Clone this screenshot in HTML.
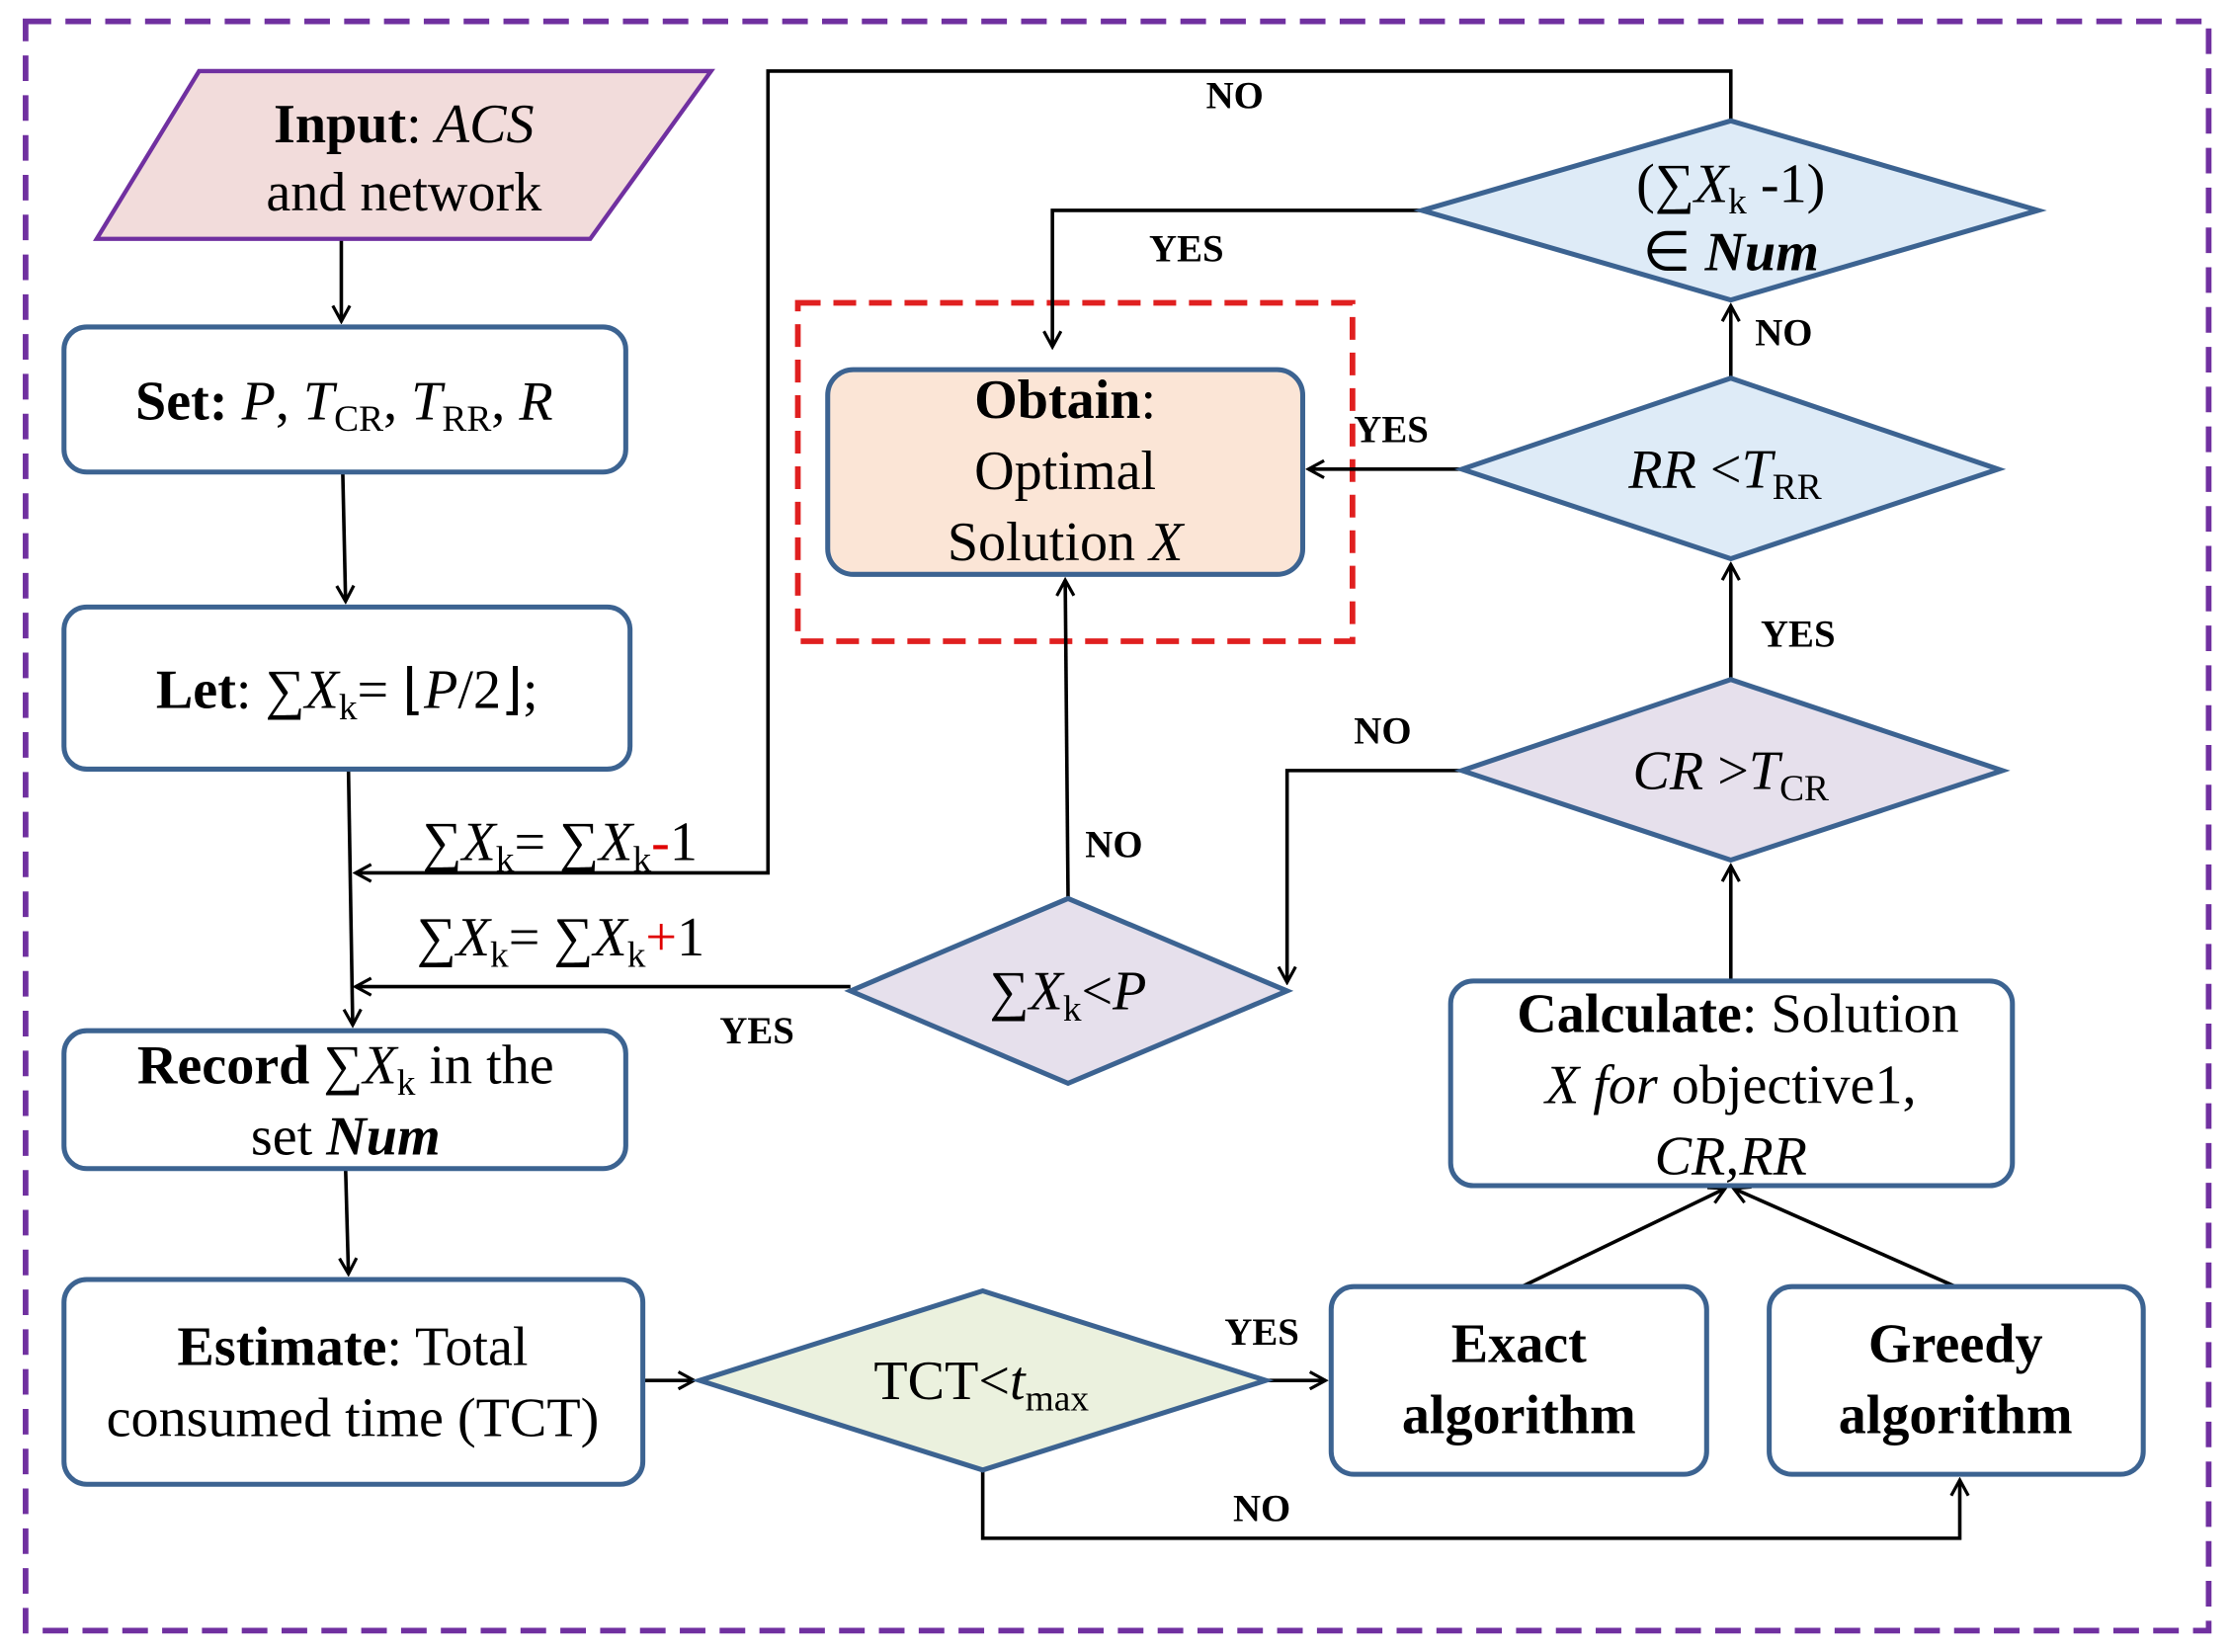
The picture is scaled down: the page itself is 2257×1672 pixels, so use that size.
<!DOCTYPE html>
<html><head><meta charset="utf-8"><style>
html,body{margin:0;padding:0;background:#fff;}
svg{display:block;}
text{font-family:"Liberation Serif",serif;fill:#000;}
.t{font-size:39px;}
.l{font-size:27px;font-weight:bold;}
</style></head><body>
<svg width="2257" height="1672" viewBox="0 0 1568 1162" preserveAspectRatio="none" xmlns="http://www.w3.org/2000/svg">
<defs><marker id="a" markerWidth="14" markerHeight="14" refX="12" refY="7" orient="auto" markerUnits="userSpaceOnUse"><path d="M1,1 L12,7 L1,13" fill="none" stroke="#000" stroke-width="2.2"/></marker></defs>
<rect x="18" y="15" width="1535" height="1132" fill="none" stroke="#7030a0" stroke-width="4" stroke-dasharray="18,10"/>
<rect x="561" y="213" width="390" height="238" fill="none" stroke="#e02020" stroke-width="4" stroke-dasharray="16,9"/>
<g stroke="#000" stroke-width="2.5" fill="none">
<line x1="240" y1="168" x2="240" y2="226" marker-end="url(#a)"/>
<line x1="241" y1="332" x2="243" y2="423" marker-end="url(#a)"/>
<line x1="245" y1="541" x2="248" y2="721" marker-end="url(#a)"/>
<line x1="243" y1="822" x2="245" y2="896" marker-end="url(#a)"/>
<line x1="452" y1="971" x2="488" y2="971" marker-end="url(#a)"/>
<line x1="890" y1="971" x2="932" y2="971" marker-end="url(#a)"/>
<polyline points="691,1034 691,1082 1378,1082 1378,1041" marker-end="url(#a)"/>
<line x1="1070" y1="905" x2="1213" y2="836" marker-end="url(#a)"/>
<line x1="1375" y1="905" x2="1219" y2="836" marker-end="url(#a)"/>
<line x1="1217" y1="690" x2="1217" y2="609" marker-end="url(#a)"/>
<line x1="1217" y1="478" x2="1217" y2="397" marker-end="url(#a)"/>
<line x1="1217" y1="266" x2="1217" y2="215" marker-end="url(#a)"/>
<line x1="1028" y1="330" x2="920" y2="330" marker-end="url(#a)"/>
<polyline points="1217,85 1217,50 540,50 540,614 250,614" marker-end="url(#a)"/>
<polyline points="1000,148 740,148 740,244" marker-end="url(#a)"/>
<polyline points="1028,542 905,542 905,691" marker-end="url(#a)"/>
<line x1="751" y1="632" x2="749" y2="408" marker-end="url(#a)"/>
<line x1="598" y1="694" x2="250" y2="694" marker-end="url(#a)"/>
</g>
<g stroke="#3c6391" stroke-width="3.5">
<polygon points="140,50 500,50 415,168 68,168" fill="#f2dcdb" stroke="#7030a0" stroke-width="3"/>
<rect x="45" y="230" width="395" height="102" rx="16" fill="#fff"/>
<rect x="45" y="427" width="398" height="114" rx="16" fill="#fff"/>
<rect x="45" y="725" width="395" height="97" rx="16" fill="#fff"/>
<rect x="45" y="900" width="407" height="144" rx="16" fill="#fff"/>
<rect x="582" y="260" width="334" height="144" rx="18" fill="#fbe5d6"/>
<rect x="1020" y="690" width="395" height="144" rx="16" fill="#fff"/>
<rect x="936" y="905" width="264" height="132" rx="16" fill="#fff"/>
<rect x="1244" y="905" width="263" height="132" rx="16" fill="#fff"/>
<polygon points="1000,148 1217,85 1433,148 1217,211" fill="#deebf7"/>
<polygon points="1028,330 1217,266 1405,330 1217,393" fill="#deebf7"/>
<polygon points="1028,542 1217,478 1408,542 1217,605" fill="#e6e0ec"/>
<polygon points="598,697 751,632 905,697 751,762" fill="#e6e0ec"/>
<polygon points="492,971 691,908 890,971 691,1034" fill="#ebf1de"/>
</g>
<g class="t" text-anchor="middle">
<text x="284" y="100"><tspan font-weight="bold">Input</tspan>: <tspan font-style="italic">ACS</tspan></text>
<text x="284" y="148">and network</text>
<text x="242" y="295"><tspan font-weight="bold">Set:</tspan> <tspan font-style="italic">P</tspan>, <tspan font-style="italic">T</tspan><tspan font-size="26" dy="8">CR</tspan><tspan dy="-8">, </tspan><tspan font-style="italic">T</tspan><tspan font-size="26" dy="8">RR</tspan><tspan dy="-8">, </tspan><tspan font-style="italic">R</tspan></text>
<text x="244" y="498"><tspan font-weight="bold">Let</tspan>: ∑<tspan font-style="italic">X</tspan><tspan font-size="26" dy="8">k</tspan><tspan dy="-8">= ⌊</tspan><tspan font-style="italic">P</tspan>/2⌋;</text>
<text x="243" y="762"><tspan font-weight="bold">Record</tspan> ∑<tspan font-style="italic">X</tspan><tspan font-size="26" dy="8">k</tspan><tspan dy="-8"> in the</tspan></text>
<text x="243" y="812">set <tspan font-weight="bold" font-style="italic">Num</tspan></text>
<text x="248" y="960"><tspan font-weight="bold">Estimate</tspan>: Total</text>
<text x="248" y="1010">consumed time (TCT)</text>
<text x="749" y="294"><tspan font-weight="bold">Obtain</tspan>:</text>
<text x="749" y="344">Optimal</text>
<text x="749" y="394">Solution <tspan font-style="italic">X</tspan></text>
<text x="1222" y="726"><tspan font-weight="bold">Calculate</tspan>: Solution</text>
<text x="1217" y="776"><tspan font-style="italic">X for</tspan> objective1,</text>
<text x="1217" y="826" font-style="italic">CR,RR</text>
<text x="1068" y="958" font-weight="bold">Exact</text>
<text x="1068" y="1008" font-weight="bold">algorithm</text>
<text x="1375" y="958" font-weight="bold">Greedy</text>
<text x="1375" y="1008" font-weight="bold">algorithm</text>
<text x="1217" y="142">(∑<tspan font-style="italic">X</tspan><tspan font-size="26" dy="8">k</tspan><tspan dy="-8"> -1)</tspan></text>
<text x="1217" y="190">∈ <tspan font-weight="bold" font-style="italic">Num</tspan></text>
<text x="1213" y="343"><tspan font-style="italic">RR</tspan> &lt;<tspan font-style="italic">T</tspan><tspan font-size="26" dy="8">RR</tspan></text>
<text x="1217" y="555"><tspan font-style="italic">CR</tspan> &gt;<tspan font-style="italic">T</tspan><tspan font-size="26" dy="8">CR</tspan></text>
<text x="751" y="710">∑<tspan font-style="italic">X</tspan><tspan font-size="26" dy="8">k</tspan><tspan dy="-8">&lt;</tspan><tspan font-style="italic">P</tspan></text>
<text x="690" y="984">TCT&lt;<tspan font-style="italic">t</tspan><tspan font-size="26" dy="8">max</tspan></text>
</g>
<g class="t">
<text x="297" y="605">∑<tspan font-style="italic">X</tspan><tspan font-size="26" dy="8">k</tspan><tspan dy="-8">= ∑</tspan><tspan font-style="italic">X</tspan><tspan font-size="26" dy="8">k</tspan><tspan dy="-8" fill="#e00000">-</tspan>1</text>
<text x="293" y="672">∑<tspan font-style="italic">X</tspan><tspan font-size="26" dy="8">k</tspan><tspan dy="-8">= ∑</tspan><tspan font-style="italic">X</tspan><tspan font-size="26" dy="8">k</tspan><tspan dy="-8" fill="#e00000">+</tspan>1</text>
</g>
<g class="l">
<text x="848" y="76">NO</text>
<text x="808" y="184">YES</text>
<text x="1234" y="243">NO</text>
<text x="952" y="311">YES</text>
<text x="1238" y="455">YES</text>
<text x="952" y="523">NO</text>
<text x="763" y="603">NO</text>
<text x="506" y="734">YES</text>
<text x="861" y="946">YES</text>
<text x="867" y="1070">NO</text>
</g>
</svg>
</body></html>
